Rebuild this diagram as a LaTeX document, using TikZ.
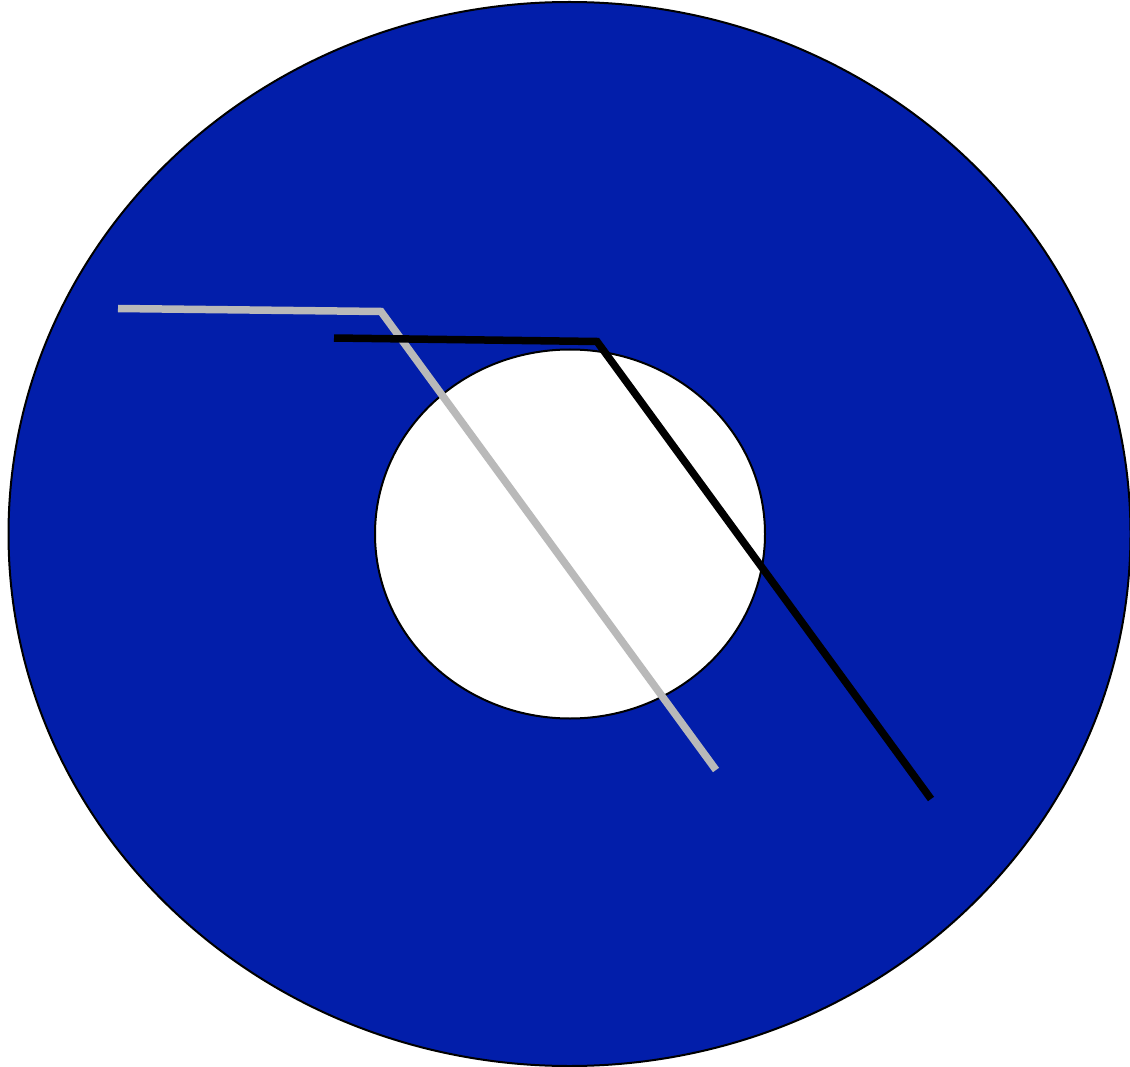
\documentclass[tikz,border=0pt]{standalone}
\definecolor{diskblue}{RGB}{2,30,170}
\definecolor{lightgrey}{RGB}{185,185,185}
\begin{document}
\begin{tikzpicture}[x=1pt,y=-1pt,
  rim/.style={draw=black,line width=2pt},
  wire/.style={line width=7.5pt,line cap=butt,line join=miter}]
\useasboundingbox (0,0) rectangle (1130,1067);
\fill[white] (0,0) rectangle (1130,1067);
\filldraw[rim,fill=diskblue] (569.5,534) ellipse [x radius=561,y radius=532];
\filldraw[rim,fill=white] (570,534) ellipse [x radius=195,y radius=184.5];
\coordinate (g1) at (118,308.5);
\coordinate (g2) at (381,311.5);
\coordinate (g3) at (716,770);
\coordinate (k1) at (334,338);
\coordinate (k2) at (597,341.5);
\coordinate (k3) at (931,799);
\draw[wire,lightgrey] (g1) -- (g2) -- (g3);
\draw[wire,black] (k1) -- (k2) -- (k3);
\end{tikzpicture}
\end{document}
